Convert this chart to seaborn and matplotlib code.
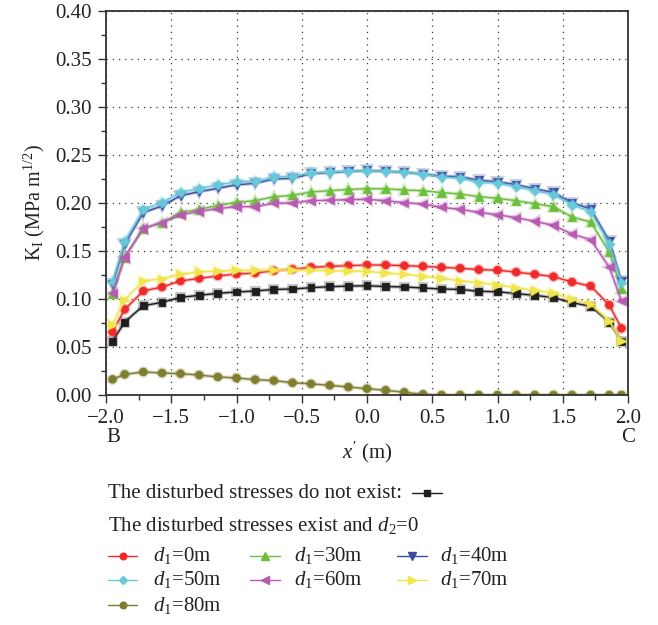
import matplotlib
matplotlib.use("Agg")
import matplotlib.pyplot as plt
import matplotlib.patheffects as pe
from matplotlib.lines import Line2D
import seaborn as sns
import pandas as pd

# Positions along the crack face B-C (m)
x_pos = [-1.95, -1.857, -1.714, -1.571, -1.429, -1.286, -1.143, -1.0, -0.857,
         -0.714, -0.571, -0.429, -0.286, -0.143, 0.0, 0.143, 0.286, 0.429,
         0.571, 0.714, 0.857, 1.0, 1.143, 1.286, 1.429, 1.571, 1.714, 1.857, 1.95]

# Stress intensity factor K_I (MPa m^1/2)
k_none = [0.056, 0.076, 0.093, 0.0965, 0.1017, 0.1038, 0.106, 0.1073, 0.1083,
          0.110, 0.1104, 0.1118, 0.1128, 0.1135, 0.1138, 0.113, 0.1125, 0.1115,
          0.1104, 0.110, 0.108, 0.1076, 0.1056, 0.1038, 0.1014, 0.0962, 0.0924,
          0.076, 0.0562]
k_d0 = [0.0656, 0.0892, 0.1083, 0.1125, 0.1188, 0.1215, 0.124, 0.126, 0.127,
        0.1295, 0.131, 0.133, 0.134, 0.1347, 0.1354, 0.1354, 0.1347, 0.134,
        0.133, 0.132, 0.1306, 0.130, 0.128, 0.1257, 0.1233, 0.1177, 0.1135,
        0.0937, 0.0694]
k_d30 = [0.105, 0.1434, 0.1736, 0.1795, 0.190, 0.1934, 0.1975, 0.2007, 0.2024,
         0.2065, 0.208, 0.2115, 0.2128, 0.2142, 0.2149, 0.2149, 0.2135, 0.2128,
         0.2108, 0.2094, 0.2066, 0.2049, 0.2024, 0.1993, 0.1962, 0.1854, 0.1802,
         0.149, 0.1104]
k_d40 = [0.115, 0.157, 0.190, 0.1969, 0.2076, 0.2118, 0.2153, 0.219, 0.2205,
         0.225, 0.2257, 0.2306, 0.2316, 0.233, 0.2337, 0.233, 0.232, 0.2302,
         0.228, 0.2274, 0.2236, 0.2222, 0.219, 0.2149, 0.2108, 0.2003, 0.1938,
         0.1604, 0.1187]
k_d50 = [0.118, 0.160, 0.1934, 0.2003, 0.2111, 0.2149, 0.2188, 0.2222, 0.2226,
         0.2271, 0.228, 0.2313, 0.2323, 0.2333, 0.2337, 0.233, 0.232, 0.2299,
         0.227, 0.2257, 0.2215, 0.2205, 0.217, 0.2128, 0.2087, 0.1979, 0.191,
         0.1573, 0.117]
k_d60 = [0.106, 0.1434, 0.1736, 0.1795, 0.1875, 0.1913, 0.1941, 0.1962, 0.1962,
         0.1997, 0.200, 0.2024, 0.2028, 0.2035, 0.2038, 0.2024, 0.2003, 0.199,
         0.1955, 0.1934, 0.1903, 0.1878, 0.1847, 0.1809, 0.1767, 0.1677, 0.1618,
         0.133, 0.0979]
k_d70 = [0.0733, 0.099, 0.119, 0.121, 0.1257, 0.1285, 0.129, 0.130, 0.1297,
         0.1305, 0.130, 0.130, 0.1295, 0.129, 0.1288, 0.127, 0.1257, 0.1236,
         0.1215, 0.119, 0.117, 0.1146, 0.1118, 0.109, 0.106, 0.0997, 0.0948,
         0.077, 0.0562]
k_d80 = [0.0163, 0.0215, 0.024, 0.0229, 0.0222, 0.0208, 0.0188, 0.0177, 0.016,
         0.0150, 0.0128, 0.0116, 0.0101, 0.0083, 0.0066, 0.0049, 0.0028, 0.0007,
         0.0, 0.0, 0.0, 0.0, 0.0, 0.0, 0.0, 0.0, 0.0, 0.0, 0.0]

x_ticks = [-2.0, -1.5, -1.0, -0.5, 0.0, 0.5, 1.0, 1.5, 2.0]
y_ticks = [0.00, 0.05, 0.10, 0.15, 0.20, 0.25, 0.30, 0.35, 0.40]

sns.set_theme(style="ticks")
plt.rcParams["font.family"] = ["Liberation Serif", "DejaVu Serif"]
plt.rcParams["mathtext.fontset"] = "custom"
plt.rcParams["mathtext.rm"] = "Liberation Serif"
plt.rcParams["mathtext.it"] = "Liberation Serif:italic"

TXT = "#222222"

# (label, values, colour, marker)
series = [
    ("none", k_none, "#1e1e1e", "s"),
    ("$d_1$=0m", k_d0, "#ee2a2a", "o"),
    ("$d_1$=30m", k_d30, "#6cbf3a", "^"),
    ("$d_1$=40m", k_d40, "#3b4ba3", "v"),
    ("$d_1$=50m", k_d50, "#66c8d8", "D"),
    ("$d_1$=60m", k_d60, "#b85ab2", "<"),
    ("$d_1$=70m", k_d70, "#f0e64a", ">"),
    ("$d_1$=80m", k_d80, "#7f7d2e", "o"),
]
msize = {"s": 5.0, "o": 5.4, "^": 6.0, "v": 6.0, "D": 4.6, "<": 6.0, ">": 6.0}

W, H = 658, 625
fig = plt.figure(figsize=(W / 100, H / 100), dpi=100)
ax = fig.add_axes([106 / W, 1 - 395 / H, 522 / W, 384 / H])

style = {}
for label, vals, col, mk in series:
    df = pd.DataFrame({"x": x_pos, "k": vals})
    sns.lineplot(data=df, x="x", y="k", ax=ax, color=col, marker=mk,
                 markersize=msize[mk], markeredgewidth=0.6,
                 markeredgecolor=col, linewidth=1.0, sort=False)
    ax.lines[-1].set_path_effects(
        [pe.Stroke(linewidth=2.6, foreground=col, alpha=0.3), pe.Normal()])
    style[label] = (col, mk)

ax.set_xlim(-2.0, 2.0)
ax.set_ylim(0.0, 0.40)
ax.set_xticks(x_ticks)
ax.set_xticklabels(["\u22122.0", "\u22121.5", "\u22121.0", "\u22120.5", "0.0",
                    "0.5", "1.0", "1.5", "2.0"])
ax.set_yticks(y_ticks)
ax.set_yticklabels([f"{v:.2f}" for v in y_ticks])
ax.set_xticks([-1.75, -1.25, -0.75, -0.25, 0.25, 0.75, 1.25, 1.75], minor=True)
ax.set_yticks([0.025, 0.075, 0.125, 0.175, 0.225, 0.275, 0.325, 0.375], minor=True)
ax.tick_params(axis="both", which="major", direction="out", length=6,
               width=1.0, color="#333333", labelsize=15, pad=4, labelcolor=TXT)
ax.tick_params(axis="both", which="minor", direction="out", length=3.5,
               width=1.0, color="#333333")
ax.grid(True, which="major", linestyle=(0, (1, 4)), color="#333333", linewidth=0.9)
for s in ax.spines.values():
    s.set_visible(True)
    s.set_color("#333333")
    s.set_linewidth(1.3)

ax.set_xlabel("")
ax.set_ylabel(r"K$_\mathrm{I}$ (MPa m$^{1/2}$)", fontsize=14.5, color=TXT,
              labelpad=6)

fig.text(113 / W, 1 - 437 / H, "B", fontsize=15, ha="center", va="center", color=TXT)
fig.text(628 / W, 1 - 437 / H, "C", fontsize=15, ha="center", va="center", color=TXT)
fig.text(367 / W, 1 - 452 / H, r"$x^{\prime}$ (m)", fontsize=15, ha="center",
         va="center", color=TXT)


def legend_key(x0, x1, y, col, mk, ms):
    """Short line with a marker in the middle, placed in figure pixels."""
    fy = 1 - y / H
    fig.add_artist(Line2D([x0 / W, x1 / W], [fy, fy], transform=fig.transFigure,
                          color=col, linewidth=1.0))
    fig.add_artist(Line2D([(x0 + x1) / 2 / W], [fy], transform=fig.transFigure,
                          color=col, marker=mk, markersize=ms,
                          markeredgecolor=col, linestyle="none"))


# Legend block below the axes
FS = 15
fig.text(108 / W, 1 - 493 / H, "The disturbed stresses do not exist:",
         fontsize=FS, ha="left", va="center", color=TXT)
legend_key(412, 442, 493, style["none"][0], "s", 4.5)
fig.text(108 / W, 1 - 525 / H, r"The disturbed stresses exist and $d_2$=0",
         fontsize=FS, ha="left", va="center", color=TXT)

grid = [
    ["$d_1$=0m", "$d_1$=30m", "$d_1$=40m"],
    ["$d_1$=50m", "$d_1$=60m", "$d_1$=70m"],
    ["$d_1$=80m"],
]
cols_px = [(108, 137, 153), (250, 280, 294), (397, 427, 440)]
rows_px = [556, 580, 605]
for r, row in enumerate(grid):
    for c, lab in enumerate(row):
        x0, x1, xt = cols_px[c]
        col, mk = style[lab]
        legend_key(x0, x1, rows_px[r], col, mk, msize[mk] - 0.6)
        fig.text(xt / W, 1 - rows_px[r] / H, lab, fontsize=FS, ha="left",
                 va="center", color=TXT)

fig.savefig("out.png", dpi=100)
